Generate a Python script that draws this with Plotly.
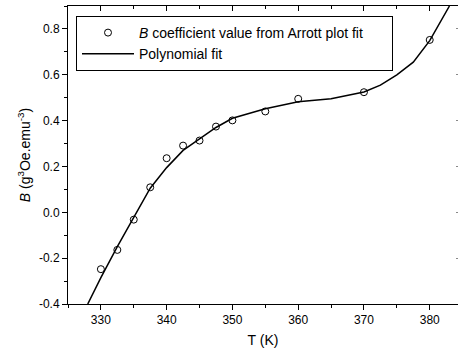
import plotly.graph_objects as go

# Data
T_data = [330, 332.5, 335, 337.5, 340, 342.5, 345, 347.5, 350, 355, 360, 370, 380]
B_data = [-0.248, -0.164, -0.032, 0.109, 0.236, 0.291, 0.313, 0.374, 0.401, 0.440, 0.495, 0.524, 0.752]

T_fit = [328, 330, 332.5, 335, 337.5, 340, 342.5, 345, 347.5, 350, 355, 360, 365, 370, 372.5, 375, 377.5, 380, 383]
B_fit = [-0.40, -0.285, -0.15, -0.02, 0.105, 0.195, 0.27, 0.32, 0.37, 0.41, 0.452, 0.482, 0.495, 0.525, 0.555, 0.60, 0.655, 0.749, 0.90]

x_ticks = [330, 340, 350, 360, 370, 380]
y_ticks = [-0.4, -0.2, 0.0, 0.2, 0.4, 0.6, 0.8]
x_range = [325, 384.3]
y_range = [-0.4, 0.9]

FONT = "Arial, Liberation Sans, sans-serif"

fig = go.Figure()
fig.add_trace(go.Scatter(
    x=T_data, y=B_data, mode="markers",
    name="<i>B</i> coefficient value from Arrott plot fit" + "&nbsp;" * 6,
    marker=dict(symbol="circle-open", size=7, color="black", line=dict(width=1, color="black")),
))
fig.add_trace(go.Scatter(
    x=T_fit, y=B_fit, mode="lines", name="Polynomial fit",
    line=dict(color="black", width=1.5),
))
# invisible trace to create the mirrored (top/right) axes
fig.add_trace(go.Scatter(x=[T_data[0]], y=[B_data[0]], xaxis="x2", yaxis="y2",
                         mode="markers", marker=dict(opacity=0), showlegend=False, hoverinfo="skip"))

fig.update_layout(
    width=458, height=351,
    margin=dict(l=68, r=0, t=6, b=47),
    paper_bgcolor="white", plot_bgcolor="white",
    font=dict(family=FONT, size=12, color="black"),
    showlegend=True,
    legend=dict(
        x=(76 - 68) / 390, y=1 - (16 - 6) / 298, xanchor="left", yanchor="top",
        bordercolor="black", borderwidth=1, bgcolor="white",
        font=dict(family=FONT, size=14, color="black"),
        itemwidth=52, tracegroupgap=0,
    ),
    xaxis=dict(
        range=x_range, tickvals=x_ticks, ticktext=[str(v) for v in x_ticks],
        showline=True, linecolor="black", linewidth=1,
        ticks="outside", ticklen=5, tickwidth=1, tickcolor="black",
        minor=dict(dtick=5, tick0=325, ticks="outside", ticklen=3, tickcolor="black"),
        showgrid=False, zeroline=False,
        title=dict(text="T (K)", font=dict(size=14), standoff=8),
        tickfont=dict(size=12),
    ),
    yaxis=dict(
        range=y_range, tickvals=y_ticks, ticktext=[f"{v:.1f}" for v in y_ticks],
        showline=True, linecolor="black", linewidth=1,
        ticks="outside", ticklen=5, tickwidth=1, tickcolor="black",
        minor=dict(dtick=0.1, tick0=-0.4, ticks="outside", ticklen=3, tickcolor="black"),
        showgrid=False, zeroline=False,
        title=dict(text="<i>B</i> (g<sup>3</sup>Oe.emu<sup>-3</sup>)", font=dict(size=14), standoff=5),
        tickfont=dict(size=12),
    ),
    xaxis2=dict(
        overlaying="x", side="top", matches="x", range=x_range,
        tickvals=x_ticks, showticklabels=False,
        showline=True, linecolor="black", linewidth=1,
        ticks="inside", ticklen=5, tickcolor="black",
        minor=dict(dtick=5, tick0=325, ticks="inside", ticklen=3, tickcolor="black"),
        showgrid=False, zeroline=False,
    ),
    yaxis2=dict(
        overlaying="y", side="right", matches="y", range=y_range,
        tickvals=y_ticks, showticklabels=False, showline=False,
        ticks="inside", ticklen=2, tickcolor="#888888",
        showgrid=False, zeroline=False,
    ),
)

fig.write_html("out.html")
